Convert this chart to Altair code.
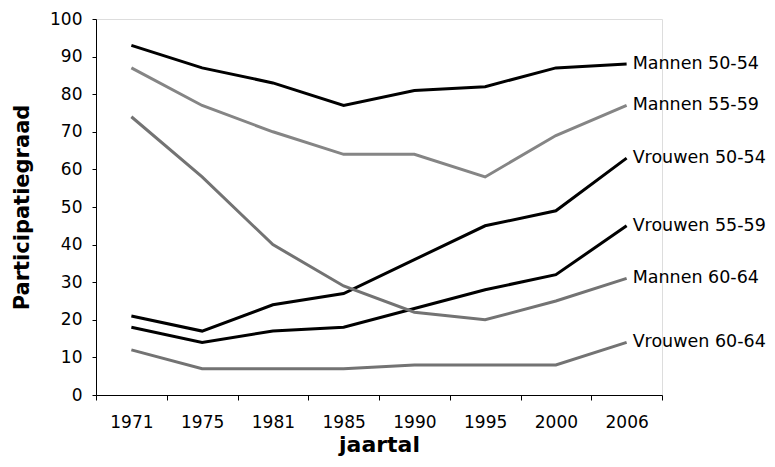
import altair as alt
import pandas as pd

years = ["1971", "1975", "1981", "1985", "1990", "1995", "2000", "2006"]
series_names = ["Mannen 50-54", "Mannen 55-59", "Vrouwen 50-54",
                "Vrouwen 55-59", "Mannen 60-64", "Vrouwen 60-64"]
mannen_50_54 = [93, 87, 83, 77, 81, 82, 87, 88]
mannen_55_59 = [87, 77, 70, 64, 64, 58, 69, 77]
vrouwen_50_54 = [21, 17, 24, 27, 36, 45, 49, 63]
vrouwen_55_59 = [18, 14, 17, 18, 23, 28, 32, 45]
mannen_60_64 = [74, 58, 40, 29, 22, 20, 25, 31]
vrouwen_60_64 = [12, 7, 7, 7, 8, 8, 8, 14]
series_colors = ["#000000", "#858585", "#000000", "#000000", "#737373", "#737373"]

values = [mannen_50_54, mannen_55_59, vrouwen_50_54, vrouwen_55_59, mannen_60_64, vrouwen_60_64]
rows = []
for name, vals in zip(series_names, values):
    for y, v in zip(years, vals):
        rows.append({"jaartal": y, "waarde": v, "reeks": name})
df = pd.DataFrame(rows)

FONT = "DejaVu Sans"

x = alt.X("jaartal:O", sort=years,
          scale=alt.Scale(type="band", paddingInner=0, paddingOuter=0),
          axis=alt.Axis(title="jaartal", labelAngle=0, tickBand="extent",
                        labelFontSize=17, labelPadding=14, titleFontSize=22,
                        titleFontWeight="bold", titlePadding=4,
                        domainColor="black", tickColor="black", tickSize=5,
                        labelColor="black", titleColor="black", labelFont=FONT,
                        titleFont=FONT, grid=False))
y = alt.Y("waarde:Q", scale=alt.Scale(domain=[0, 100], nice=False),
          axis=alt.Axis(title="Participatiegraad", values=list(range(0, 101, 10)),
                        labelFontSize=17, labelPadding=10, titleFontSize=21,
                        titleFontWeight="bold", titlePadding=17,
                        domainColor="black", tickColor="black", tickSize=4,
                        labelColor="black", titleColor="black", labelFont=FONT,
                        titleFont=FONT, grid=False))
color = alt.Color("reeks:N", scale=alt.Scale(domain=series_names, range=series_colors),
                  legend=None)

lines = alt.Chart(df).mark_line(strokeWidth=3).encode(x=x, y=y, color=color, detail="reeks:N")
labels = alt.Chart(df).transform_filter(alt.datum.jaartal == years[-1]).mark_text(
    align="left", baseline="middle", dx=6, fontSize=17.5, font=FONT, color="black"
).encode(x=x, y=y, text="reeks:N")

chart = alt.layer(lines, labels).properties(
    width=566, height=376,
    autosize=alt.AutoSizeParams(type="none"),
    padding={"left": 88, "top": 11, "right": 104, "bottom": 64},
).configure_view(stroke=None).configure(background="white")

chart.save("out.html", embed_options={"renderer": "svg", "actions": False})
